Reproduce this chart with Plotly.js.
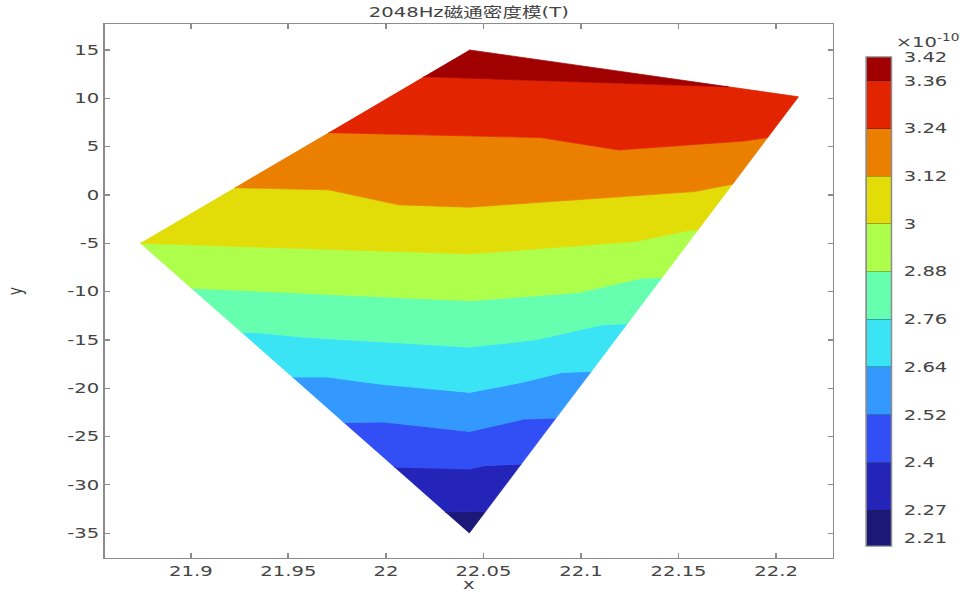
<!DOCTYPE html>
<html>
<head>
<meta charset="utf-8">
<script src="https://cdn.plot.ly/plotly-3.0.1.min.js"></script>
<style>
html,body{margin:0;padding:0;background:#fff;overflow:hidden;}
#wrap{width:686px;height:592px;transform:scaleX(1.39942);transform-origin:0 0;}
</style>
</head>
<body>
<div id="wrap"><div id="chart" style="width:686px;height:592px"></div></div>
<script>
// ---------------- data ----------------
// Domain outline vertices: left, top, right, bottom
const domainX = [21.874, 22.0427, 22.2115, 22.0427];
const domainY = [-5.0, 15.0, 10.15, -35.0];

// contour levels (×1e-10 T)
const levels = [2.28, 2.40, 2.52, 2.64, 2.76, 2.88, 3.00, 3.12, 3.24, 3.36];

// isolines, each from the left boundary to the right boundary
const iso228x = [22.0303, 22.0511];
const iso228y = [-32.80, -32.75];
const iso240x = [22.0042, 22.0332, 22.0429, 22.0503, 22.0694];
const iso240y = [-28.16, -28.26, -28.37, -28.02, -27.85];
const iso252x = [21.9783, 21.9993, 22.0429, 22.0707, 22.0872];
const iso252y = [-23.55, -23.51, -24.48, -23.20, -23.09];
const iso264x = [21.9519, 21.9701, 21.9968, 22.0429, 22.0696, 22.0902, 22.1053];
const iso264y = [-18.85, -18.85, -19.58, -20.44, -19.41, -18.38, -18.27];
const iso276x = [21.9260, 21.9337, 21.9580, 22.0429, 22.0769, 22.1109, 22.1237];
const iso276y = [-14.24, -14.24, -14.72, -15.75, -14.99, -13.44, -13.34];
const iso288x = [21.9002, 22.0429, 22.0987, 22.1315, 22.1416];
const iso288y = [-9.65, -10.96, -10.10, -8.61, -8.55];
const iso300x = [21.874, 22.0429, 22.1278, 22.1546, 22.1600];
const iso300y = [-5.00, -6.10, -4.83, -3.72, -3.62];
const iso312x = [21.9225, 21.9709, 22.0065, 22.0429, 22.1582, 22.1777];
const iso312y = [0.75, 0.52, -1.03, -1.27, 0.34, 1.11];
const iso324x = [21.9705, 22.0793, 22.1194, 22.1836, 22.1957];
const iso324y = [6.44, 5.93, 4.65, 5.58, 5.93];
const iso336x = [22.0193, 22.1755];
const iso336y = [12.23, 11.185];

// colour bar
const cbMin = 2.19, cbMax = 3.42;
const cbTickVals = [2.21, 2.28, 2.40, 2.52, 2.64, 2.76, 2.88, 3.00, 3.12, 3.24, 3.36, 3.42];
const cbTickText = ['2.21', '2.27', '2.4', '2.52', '2.64', '2.76', '2.88', '3', '3.12', '3.24', '3.36', '3.42'];

// axis ticks
const xTickVals = [21.9, 21.95, 22.0, 22.05, 22.1, 22.15, 22.2];
const xTickText = ['21.9', '21.95', '22', '22.05', '22.1', '22.15', '22.2'];
const yTickVals = [-35, -30, -25, -20, -15, -10, -5, 0, 5, 10, 15];
const yTickText = ['-35', '-30', '-25', '-20', '-15', '-10', '-5', '0', '5', '10', '15'];

// ---------------- styles ----------------
const bandColors = ['#1b1878', '#2424b9', '#324ff6', '#3399ff', '#3ae4f5', '#66ffaf',
                    '#adff4b', '#e2dc09', '#ea7f00', '#e22400', '#a10000'];
const FONT = 'DejaVu Sans, "Noto Sans CJK SC", sans-serif';
const TXT = '#444444';
const AX = '#8c8c8c';

// ---------------- build bands ----------------
const isoX = [iso228x, iso240x, iso252x, iso264x, iso276x, iso288x, iso300x, iso312x, iso324x, iso336x];
const isoY = [iso228y, iso240y, iso252y, iso264y, iso276y, iso288y, iso300y, iso312y, iso324y, iso336y];
const Lx = domainX[0], Ly = domainY[0], Tx = domainX[1], Ty = domainY[1];
const Rx = domainX[2], Ry = domainY[2], Bx = domainX[3], By = domainY[3];

const lines = [{x: [Bx], y: [By]}];
isoX.forEach((xs, i) => lines.push({x: xs, y: isoY[i]}));
lines.push({x: [Tx], y: [Ty]});

const traces = [];
for (let k = 0; k < lines.length - 1; k++) {
  const P = lines[k], Q = lines[k + 1];
  const px = P.x.slice(), py = P.y.slice();
  const pr = P.y[P.y.length - 1], qr = Q.y[Q.y.length - 1];
  if (pr < Ry && Ry < qr) { px.push(Rx); py.push(Ry); }
  for (let j = Q.x.length - 1; j >= 0; j--) { px.push(Q.x[j]); py.push(Q.y[j]); }
  const pl = P.y[0], ql = Q.y[0];
  if (pl < Ly && Ly < ql) { px.push(Lx); py.push(Ly); }
  traces.push({
    type: 'scatter', mode: 'lines', x: px, y: py, fill: 'toself',
    fillcolor: bandColors[k], line: {color: bandColors[k], width: 0.6},
    hoverinfo: 'skip', showlegend: false
  });
}

// stepped colour scale for the colour bar
const bounds = [cbMin].concat(levels).concat([cbMax]);
const cs = [];
for (let k = 0; k < bandColors.length; k++) {
  cs.push([(bounds[k] - cbMin) / (cbMax - cbMin), bandColors[k]]);
  cs.push([(bounds[k + 1] - cbMin) / (cbMax - cbMin), bandColors[k]]);
}
cs[0][0] = 0; cs[cs.length - 1][0] = 1;

const cbCommon = {
  x: 1.0463, xanchor: 'left', xpad: 0, y: 0.4806, yanchor: 'middle', ypad: 0,
  len: 489, lenmode: 'pixels', thickness: 18.3, thicknessmode: 'pixels',
  outlinewidth: 1, outlinecolor: AX, tickmode: 'array',
  tickfont: {family: FONT, size: 14, color: TXT}
};
traces.push({
  type: 'scatter', mode: 'markers', x: [null, null], y: [null, null],
  hoverinfo: 'skip', showlegend: false,
  marker: {color: [cbMin, cbMax], cmin: cbMin, cmax: cbMax, colorscale: cs, showscale: true,
    colorbar: Object.assign({}, cbCommon, {tickvals: cbTickVals, ticktext: cbTickText,
      ticks: 'outside', ticklen: 6, tickcolor: 'rgba(0,0,0,0)'})}
});
traces.push({
  type: 'scatter', mode: 'markers', x: [null, null], y: [null, null],
  hoverinfo: 'skip', showlegend: false,
  marker: {color: [cbMin, cbMax], cmin: cbMin, cmax: cbMax, colorscale: cs, showscale: true,
    colorbar: Object.assign({}, cbCommon, {tickvals: levels, showticklabels: false,
      ticks: 'inside', ticklen: 18.3, tickwidth: 1, tickcolor: 'rgba(30,30,30,0.33)'})}
});

const axBase = {
  showgrid: false, zeroline: false, showline: true, linecolor: AX, linewidth: 1.3,
  mirror: 'ticks', ticks: 'inside', tickcolor: AX, tickwidth: 1.3, tickmode: 'array',
  tickfont: {family: FONT, size: 14, color: TXT}, fixedrange: true
};

const layout = {
  width: 686, height: 592,
  margin: {l: 75, r: 90.8, t: 24, b: 34, autoexpand: false},
  paper_bgcolor: '#ffffff', plot_bgcolor: '#ffffff',
  title: {text: '2048Hz磁通密度模(T)', font: {family: FONT, size: 14, color: TXT},
          x: 0.5, xref: 'paper', xanchor: 'center', y: 1 - 12 / 592, yref: 'container', yanchor: 'middle'},
  xaxis: Object.assign({}, axBase, {range: [21.856, 22.229], ticklen: 5,
          tickvals: xTickVals, ticktext: xTickText,
          title: {text: 'x', font: {family: FONT, size: 14, color: TXT}, standoff: 4}}),
  yaxis: Object.assign({}, axBase, {range: [-37.57, 17.68], ticklen: 3.6,
          tickvals: yTickVals, ticktext: yTickText,
          title: {text: 'y', font: {family: FONT, size: 14, color: TXT}, standoff: 28}}),
  annotations: [{text: '×10<sup>-10</sup>', xref: 'paper', yref: 'paper', x: 1.0823, y: 0.9685,
                 xanchor: 'left', yanchor: 'middle', showarrow: false,
                 font: {family: FONT, size: 14, color: TXT}}]
};

Plotly.newPlot('chart', traces, layout, {displayModeBar: false, staticPlot: true, responsive: false});
</script>
</body>
</html>
